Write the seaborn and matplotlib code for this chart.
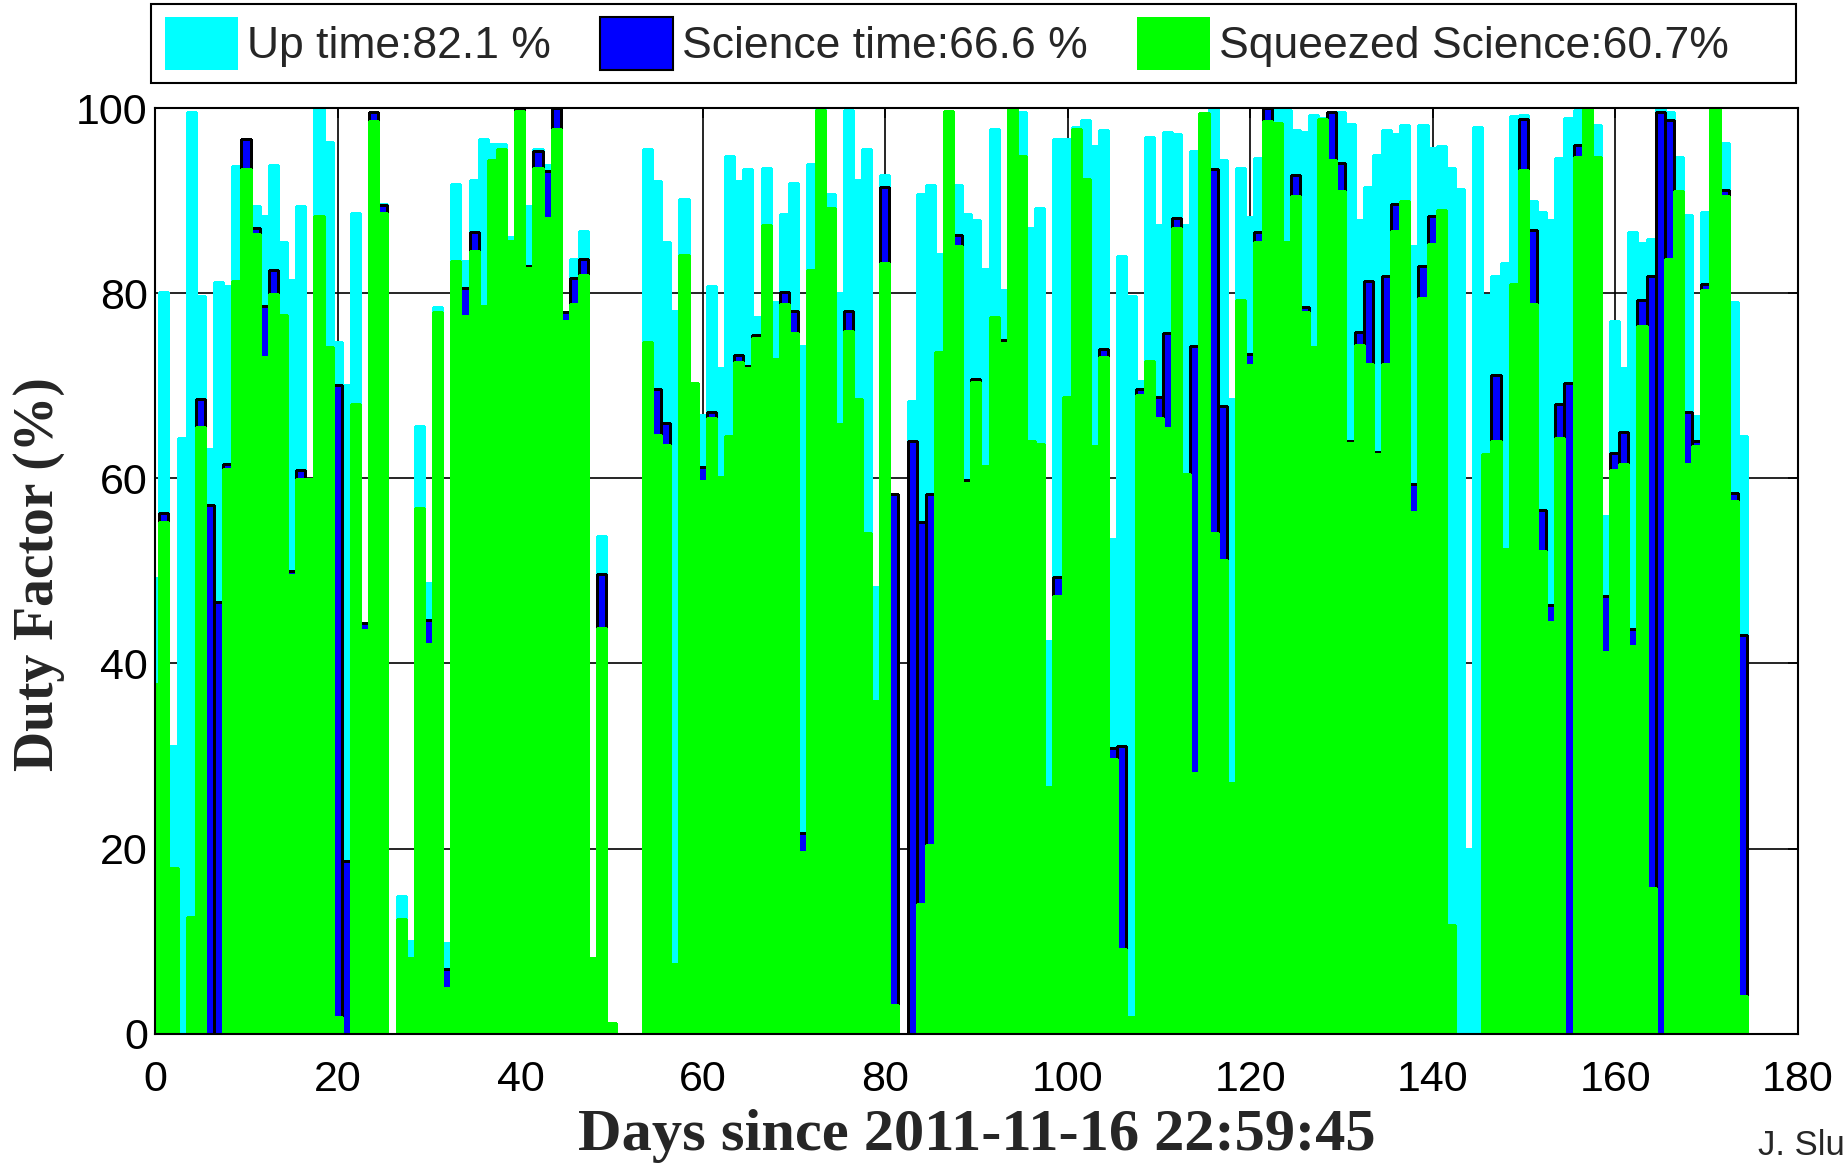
import numpy as np
import matplotlib
matplotlib.use("Agg")
import matplotlib.pyplot as plt
from matplotlib.patches import Patch, Rectangle
import seaborn as sns

# ---------------- data (percent per day) ----------------
up_time = [
    49.2, 80.2, 31.1, 64.4, 99.6, 79.7, 63.2, 81.2, 80.8, 93.8,
    96.7, 89.4, 88.4, 93.9, 85.6, 81.5, 89.4, 59.9, 99.9, 96.4,
    74.8, 70.1, 88.7, 44.4, 99.6, 89.7, 0.0, 14.9, 10.0, 65.7,
    48.7, 78.5, 9.8, 91.8, 83.5, 92.3, 96.7, 96.2, 96.2, 86.1,
    100.0, 89.4, 95.6, 93.9, 100.0, 78.0, 83.7, 86.8, 8.2, 53.8,
    1.1, 0.0, 0.0, 0.0, 95.6, 92.1, 85.6, 78.1, 90.2, 70.3,
    66.9, 80.8, 71.9, 94.9, 92.1, 93.4, 77.4, 93.6, 79.1, 88.6,
    91.9, 74.3, 94.0, 100.0, 90.7, 80.0, 99.8, 92.3, 95.6, 48.3,
    92.8, 58.3, 0.0, 68.4, 90.7, 91.7, 84.3, 99.7, 91.7, 88.6,
    87.9, 82.6, 97.8, 80.4, 99.9, 99.6, 87.1, 89.2, 42.4, 96.7,
    96.7, 98.0, 98.7, 95.9, 97.7, 53.5, 84.0, 79.7, 70.5, 96.9,
    87.4, 97.5, 97.2, 87.4, 95.4, 99.5, 99.9, 94.4, 68.6, 93.6,
    88.3, 94.6, 100.0, 99.8, 99.8, 97.7, 97.5, 99.3, 99.0, 99.6,
    99.6, 98.3, 87.9, 91.5, 95.0, 97.7, 97.2, 98.2, 85.1, 98.2,
    95.7, 95.9, 93.6, 91.3, 19.9, 98.0, 79.8, 81.9, 83.3, 99.2,
    99.3, 90.0, 88.8, 87.9, 94.6, 99.0, 99.8, 99.9, 98.2, 55.9,
    77.0, 71.9, 86.6, 85.5, 85.9, 99.9, 99.6, 94.8, 88.5, 66.7,
    88.8, 99.9, 96.3, 79.1, 64.6,
]
science_time = [
    37.8, 56.3, 17.9, 0.0, 12.6, 68.6, 57.1, 46.6, 61.6, 81.3,
    96.7, 87.1, 78.6, 82.5, 77.7, 50.0, 60.9, 59.9, 88.4, 74.2,
    70.1, 18.7, 68.0, 44.4, 99.6, 89.6, 0.0, 12.4, 8.2, 56.8,
    44.7, 78.0, 7.0, 83.5, 80.6, 86.6, 78.6, 94.4, 95.6, 85.7,
    100.0, 83.0, 95.4, 93.2, 100.0, 78.0, 81.7, 83.7, 8.2, 49.7,
    1.1, 0.0, 0.0, 0.0, 74.8, 69.7, 66.0, 7.5, 84.1, 70.3,
    61.2, 67.2, 60.2, 64.6, 73.3, 72.2, 75.5, 87.4, 72.9, 80.2,
    78.1, 21.7, 82.5, 99.8, 89.2, 65.9, 78.1, 68.6, 54.1, 35.9,
    91.5, 58.3, 0.0, 64.1, 55.3, 58.3, 73.7, 99.7, 86.3, 59.8,
    70.8, 61.3, 77.5, 75.0, 99.9, 94.9, 64.1, 63.7, 26.6, 49.4,
    68.8, 97.8, 92.4, 63.5, 74.0, 30.9, 31.1, 1.8, 69.7, 72.7,
    68.8, 75.7, 88.1, 60.5, 74.3, 99.5, 93.4, 67.8, 27.1, 79.3,
    73.4, 86.6, 100.0, 98.4, 85.6, 92.8, 78.5, 74.2, 98.8, 99.6,
    94.1, 64.1, 75.8, 81.3, 62.9, 81.9, 89.7, 90.0, 59.4, 83.0,
    88.4, 89.0, 11.7, 0.0, 0.0, 0.0, 62.6, 71.2, 52.4, 81.0,
    98.8, 86.9, 56.6, 46.3, 68.0, 70.3, 96.0, 99.9, 94.8, 47.3,
    62.8, 65.0, 43.7, 79.3, 81.9, 99.6, 98.7, 91.1, 67.2, 64.1,
    81.0, 99.9, 91.2, 58.4, 43.1,
]
squeezed_science = [
    37.8, 55.3, 17.9, 0.0, 12.6, 65.6, 0.0, 0.0, 61.0, 81.3,
    93.4, 86.4, 73.1, 79.9, 77.7, 49.6, 59.9, 59.9, 88.4, 74.2,
    1.8, 0.0, 68.0, 43.6, 98.6, 88.7, 0.0, 12.4, 8.2, 56.8,
    42.1, 78.0, 4.9, 83.5, 77.6, 84.6, 78.6, 94.4, 95.6, 85.7,
    99.7, 82.8, 93.6, 88.2, 97.8, 77.0, 78.9, 82.0, 8.2, 43.8,
    1.1, 0.0, 0.0, 0.0, 74.8, 64.7, 63.6, 7.5, 84.1, 70.3,
    59.7, 66.5, 60.2, 64.6, 72.6, 71.9, 75.2, 87.4, 72.9, 78.9,
    75.7, 19.6, 82.5, 99.8, 89.2, 65.9, 75.9, 68.6, 54.1, 35.9,
    83.3, 3.1, 0.0, 0.0, 14.0, 20.4, 73.7, 99.7, 85.1, 59.5,
    70.4, 61.3, 77.5, 74.6, 99.9, 94.9, 64.1, 63.7, 26.6, 47.3,
    68.8, 97.8, 92.4, 63.5, 73.1, 29.7, 9.1, 1.8, 69.0, 72.7,
    66.5, 65.4, 87.1, 60.5, 28.2, 99.5, 54.1, 51.2, 27.1, 79.3,
    72.3, 85.6, 98.6, 98.4, 85.6, 90.5, 78.0, 74.2, 98.8, 94.4,
    91.1, 63.8, 74.4, 72.4, 62.6, 72.4, 86.8, 90.0, 56.4, 79.5,
    85.3, 89.0, 11.7, 0.0, 0.0, 0.0, 62.6, 64.1, 52.4, 81.0,
    93.3, 78.9, 52.2, 44.5, 64.4, 0.0, 94.8, 99.9, 94.8, 41.2,
    60.9, 61.6, 41.9, 76.5, 15.7, 0.0, 83.7, 91.1, 61.6, 63.5,
    80.4, 99.9, 90.5, 57.6, 4.1,
]
legend_labels = ["Up time:82.1 %", "Science time:66.6 %", "Squeezed Science:60.7%"]
x_ticks = [0, 20, 40, 60, 80, 100, 120, 140, 160, 180]
y_ticks = [0, 20, 40, 60, 80, 100]
x_label = "Days since 2011-11-16 22:59:45"
y_label = "Duty Factor (%)"
author = "J. Slu"

# ---------------- style ----------------
sns.set_style("white")
plt.rcParams["font.family"] = ["Liberation Sans", "DejaVu Sans"]

C_UP = "#00FFFF"
C_SCI = "#0000FF"
C_SQZ = "#00FF00"

n = len(up_time)
day_index = np.arange(n)
bar_offset = -0.07            # daily bins are shifted relative to the day origin
x_pos = day_index + bar_offset
edges = list(np.arange(n + 1) - 0.5 + bar_offset)

fig = plt.figure(figsize=(18.48, 11.63), dpi=100)
ax = fig.add_axes([0.0841, 0.1113, 0.8887, 0.7955])

sns.histplot(x=x_pos, weights=up_time, bins=edges, stat="count",
             color=C_UP, alpha=1, edgecolor=C_UP, linewidth=0.8,
             antialiased=False, ax=ax)
sns.histplot(x=x_pos, weights=science_time, bins=edges, stat="count",
             color=C_SCI, alpha=1, edgecolor="black", linewidth=1.0,
             antialiased=False, ax=ax)
sns.histplot(x=x_pos, weights=squeezed_science, bins=edges, stat="count",
             color=C_SQZ, alpha=1, edgecolor=C_SQZ, linewidth=1.0,
             antialiased=False, ax=ax)

ax.set_xlim(0, 180)
ax.set_ylim(0, 100)
ax.set_xticks(x_ticks)
ax.set_yticks(y_ticks)
ax.grid(True, color="black", linewidth=1.2, linestyle="-")
ax.set_axisbelow(True)
for sp in ax.spines.values():
    sp.set_visible(True)
    sp.set_color("black")
    sp.set_linewidth(1.5)
ax.tick_params(axis="both", which="both", direction="in", length=7, width=1.2,
               top=True, right=True, labelsize=31, colors="black")
ax.tick_params(axis="x", pad=19)
ax.tick_params(axis="y", pad=5.5)

ax.set_xlabel(x_label, fontsize=43.5, fontweight="bold",
              family=["Liberation Serif", "DejaVu Serif"], va="center")
ax.xaxis.set_label_coords(0.5, -0.111)
ax.set_ylabel(y_label, fontsize=40, fontweight="bold",
              family=["Liberation Serif", "DejaVu Serif"], va="center")
ax.yaxis.set_label_coords(-0.0709, 0.497)

# legend box (frame drawn separately so its width matches the original)
fig.add_artist(Rectangle((151 / 1848, 1 - 82.5 / 1163), (1796 - 151) / 1848, 79 / 1163,
                         transform=fig.transFigure, fill=True, facecolor="white",
                         edgecolor="black", linewidth=1.5, zorder=2))
handles = [
    Patch(facecolor=C_UP, edgecolor=C_UP, linewidth=0),
    Patch(facecolor=C_SCI, edgecolor="black", linewidth=1.5),
    Patch(facecolor=C_SQZ, edgecolor=C_SQZ, linewidth=0),
]
leg = fig.legend(handles, legend_labels, loc="upper left", ncol=3,
                 bbox_to_anchor=(165 / 1848, 1 - 17 / 1163),
                 bbox_transform=fig.transFigure, borderaxespad=0,
                 fontsize=32, handlelength=1.65, handleheight=1.45,
                 handletextpad=0.2, borderpad=0, columnspacing=1.1,
                 frameon=False)
leg.set_zorder(3)

fig.text(1758 / 1848, 1 / 1163, author, fontsize=25, va="bottom", ha="left")

fig.savefig("out.png", dpi=100)
